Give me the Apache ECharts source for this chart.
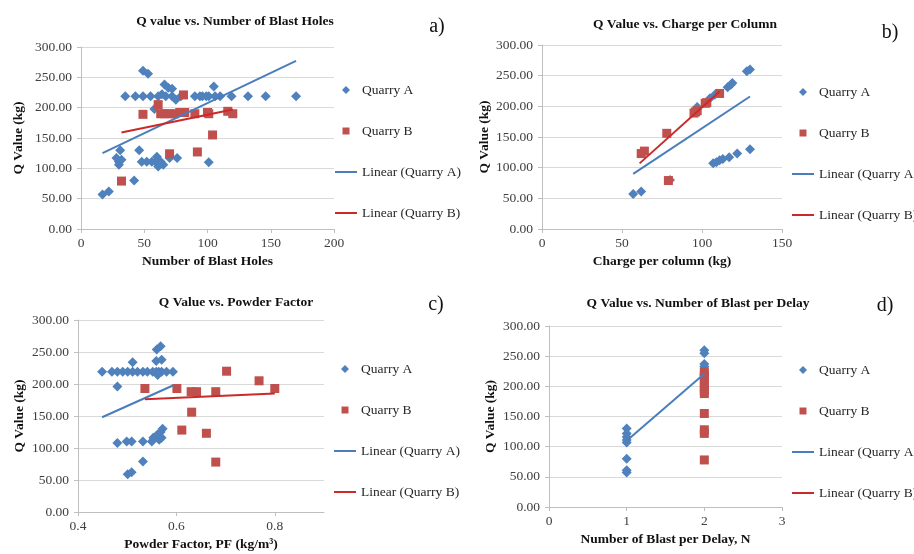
<!DOCTYPE html>
<html><head><meta charset="utf-8">
<script src="https://cdn.jsdelivr.net/npm/echarts@6/dist/echarts.min.js"></script>
<style>html,body{margin:0;padding:0;background:#fff}#c{width:914px;height:554px}</style>
</head><body><div id="c"></div>
<script>
// ---------- DATA ----------
const seriesNames = ['Quarry A', 'Quarry B', 'Linear (Quarry A)', 'Linear (Quarry B)'];
const panelTitles = ['Q value vs. Number of Blast Holes', 'Q Value vs. Charge per Column', 'Q Value vs. Powder Factor', 'Q Value vs. Number of Blast per Delay'];
const panelLetters = ['a)', 'b)', 'c)', 'd)'];
const xAxisNames = ['Number of Blast Holes', 'Charge per column (kg)', 'Powder Factor, PF (kg/m\u00B3)', 'Number of Blast per Delay, N'];
const yAxisName = 'Q Value (kg)';

// a) Number of blast holes vs Q
const holesQuarryA = [[17,57],[22,62],[28,117],[30,111],[30,106],[31,130],[32,114],[35,219],[42,80],[43,219],[46,130],[48,111],[49,261],[49,219],[52,111],[53,256],[55,219],[56,111],[58,198],[59,111],[60,119],[61,219],[61,103],[63,111],[64,222],[65,106],[66,238],[67,219],[69,233],[70,117],[72,219],[72,231],[75,213],[76,117],[79,219],[90,219],[94,219],[96,219],[99,219],[101,110],[101,219],[105,235],[106,219],[110,219],[119,219],[132,219],[146,219],[170,219]];
const holesQuarryB = [[32,79],[49,189],[61,205],[63,190],[66,190],[70,190],[70,124],[74,190],[78,192],[81,221],[82,192],[90,190],[92,127],[100,192],[101,190],[104,155],[116,194],[120,190]];
const holesTrendA = [[17,125],[170,277]];
const holesTrendB = [[32,159],[120,197]];

// b) Charge per column vs Q
const chargeQuarryA = [[57,57],[62,61],[80,80],[107,107],[109,109],[111,112],[113,114],[117,117],[122,123],[130,130],[97,199],[105,213],[108,219],[116,231],[118,235],[119,238],[128,257],[130,260]];
const chargeQuarryB = [[62,123],[64,127],[78,156],[79,79],[95,189],[96,191],[97,193],[102,205],[103,206],[111,221]];
const chargeTrendA = [[57,90],[130,216]];
const chargeTrendB = [[61,107],[111,224]];

// c) Powder factor vs Q
const pfQuarryA = [[0.449,219],[0.469,219],[0.480,219],[0.491,219],[0.501,219],[0.511,219],[0.521,219],[0.532,219],[0.541,219],[0.552,219],[0.559,219],[0.564,219],[0.570,219],[0.580,219],[0.593,219],[0.511,234],[0.560,254],[0.568,259],[0.559,236],[0.570,238],[0.480,196],[0.562,214],[0.480,108],[0.499,110],[0.509,110],[0.532,110],[0.550,110],[0.553,116],[0.558,118],[0.562,121],[0.565,113],[0.568,125],[0.572,130],[0.570,116],[0.532,79],[0.501,59],[0.509,62]];
const pfQuarryB = [[0.536,193],[0.601,193],[0.630,188],[0.641,188],[0.680,188],[0.702,220],[0.768,205],[0.800,193],[0.631,156],[0.611,128],[0.661,123],[0.680,78]];
const pfTrendA = [[0.449,148],[0.594,198]];
const pfTrendB = [[0.536,176],[0.800,185]];

// d) Number of blast per delay vs Q
const delayQuarryA = [[1,130],[1,122],[1,116],[1,111],[1,107],[1,80],[1,61],[1,57],[2,260],[2,255],[2,237],[2,233],[2,219]];
const delayQuarryB = [[2,224],[2,219],[2,213],[2,205],[2,199],[2,193],[2,188],[2,155],[2,128],[2,122],[2,78]];
const delayTrendA = [[1,110],[2,221]];
const delayTrendB = [];

// ---------- LAYOUT / STYLE ----------
const FONT = "'Liberation Serif','Times New Roman',serif";
const BLUE = '#4f81bd', RED = '#c0504d', BLUE_LINE = '#4a7ebb', RED_LINE = '#cc2a2a';

const panels = [
  {grid:{left:81,top:47,width:253,height:182}, x:{min:0,max:200,interval:50}, data:[holesQuarryA,holesQuarryB,holesTrendA,holesTrendB],
   title:[235,22], letter:[437,27], legend:{left:335,top:83}, yGap:55, xGap:26, showMax:true},
  {grid:{left:542,top:45,width:240,height:184}, x:{min:0,max:150,interval:50}, data:[chargeQuarryA,chargeQuarryB,chargeTrendA,chargeTrendB],
   title:[685,25], letter:[890,33], legend:{left:792,top:85}, yGap:43, xGap:26, showMax:true},
  {grid:{left:78,top:320,width:246,height:192}, x:{min:0.4,max:0.9,interval:0.2}, data:[pfQuarryA,pfQuarryB,pfTrendA,pfTrendB],
   title:[236,303], letter:[436,305], legend:{left:334,top:362}, yGap:51, xGap:26, showMax:false},
  {grid:{left:549,top:326,width:233,height:181}, x:{min:0,max:3,interval:1}, data:[delayQuarryA,delayQuarryB,delayTrendA,delayTrendB],
   title:[698,304], letter:[885,306], legend:{left:792,top:363}, yGap:51, xGap:26, showMax:true}
];

const ICON_DIAMOND = 'path://M0,0M22,8M11,0L15,4L11,8L7,4Z';
const ICON_SQUARE = 'path://M0,0M22,8M7.5,0.5L14.5,0.5L14.5,7.5L7.5,7.5Z';
const ICON_LINE = 'path://M0,0M22,8M0,3L22,3L22,5L0,5Z';

const option = {
  animation:false,
  backgroundColor:'#fff',
  grid:[], xAxis:[], yAxis:[], series:[], legend:[], graphic:[]
};

panels.forEach((p,i)=>{
  option.grid.push(Object.assign({containLabel:false}, p.grid));
  option.xAxis.push({
    type:'value', gridIndex:i, min:p.x.min, max:p.x.max, interval:p.x.interval,
    name:xAxisNames[i], nameLocation:'middle', nameGap:p.xGap,
    nameTextStyle:{fontFamily:FONT,fontWeight:'bold',fontSize:13.5,color:'#111'},
    axisLine:{show:true,onZero:false,lineStyle:{color:'#bfbfbf',width:1}},
    axisTick:{show:true,length:4,lineStyle:{color:'#bfbfbf'}},
    axisLabel:{fontFamily:FONT,fontSize:13.5,color:'#404040',margin:7,showMaxLabel:p.showMax,
      formatter:v=>String(Math.round(v*10)/10)},
    splitLine:{show:false}
  });
  option.yAxis.push({
    type:'value', gridIndex:i, min:0, max:300, interval:50,
    name:yAxisName, nameLocation:'middle', nameGap:p.yGap, nameRotate:90,
    nameTextStyle:{fontFamily:FONT,fontWeight:'bold',fontSize:13.5,color:'#111'},
    axisLine:{show:true,lineStyle:{color:'#bfbfbf',width:1}},
    axisTick:{show:true,length:4,lineStyle:{color:'#bfbfbf'}},
    axisLabel:{fontFamily:FONT,fontSize:13.5,color:'#404040',margin:9,formatter:v=>v.toFixed(2)},
    splitLine:{show:true,lineStyle:{color:'#d9d9d9',width:1}}
  });
  option.series.push(
    {name:seriesNames[0],type:'scatter',xAxisIndex:i,yAxisIndex:i,data:p.data[0],symbol:'diamond',symbolSize:10,
     itemStyle:{color:BLUE,opacity:1}},
    {name:seriesNames[1],type:'scatter',xAxisIndex:i,yAxisIndex:i,data:p.data[1],symbol:'rect',symbolSize:9,
     itemStyle:{color:RED,opacity:1}},
    {name:seriesNames[2],type:'line',xAxisIndex:i,yAxisIndex:i,data:p.data[2],showSymbol:false,symbol:'none',
     itemStyle:{color:BLUE_LINE},lineStyle:{color:BLUE_LINE,width:2},z:3},
    {name:seriesNames[3],type:'line',xAxisIndex:i,yAxisIndex:i,data:p.data[3],showSymbol:false,symbol:'none',
     itemStyle:{color:RED_LINE},lineStyle:{color:RED_LINE,width:2},z:3}
  );
  option.legend.push({
    orient:'vertical', left:p.legend.left, top:p.legend.top, padding:0,
    itemWidth:22, itemHeight:8, itemGap:27, selectedMode:false,
    textStyle:{fontFamily:FONT,fontSize:13.5,color:'#262626',lineHeight:14},
    data:[
      {name:seriesNames[0],icon:ICON_DIAMOND},
      {name:seriesNames[1],icon:ICON_SQUARE},
      {name:seriesNames[2],icon:ICON_LINE},
      {name:seriesNames[3],icon:ICON_LINE}
    ]
  });
  option.graphic.push(
    {type:'text',x:p.title[0],y:p.title[1],style:{text:panelTitles[i],fontFamily:FONT,fontWeight:'bold',fontSize:13.5,fill:'#111',align:'center',verticalAlign:'middle'}},
    {type:'text',x:p.letter[0],y:p.letter[1],style:{text:panelLetters[i],fontFamily:FONT,fontSize:20,fill:'#111',align:'center',verticalAlign:'middle'}}
  );
});

const chart = echarts.init(document.getElementById('c'), null, {renderer:'canvas'});
chart.setOption(option);
</script>
</body></html>
